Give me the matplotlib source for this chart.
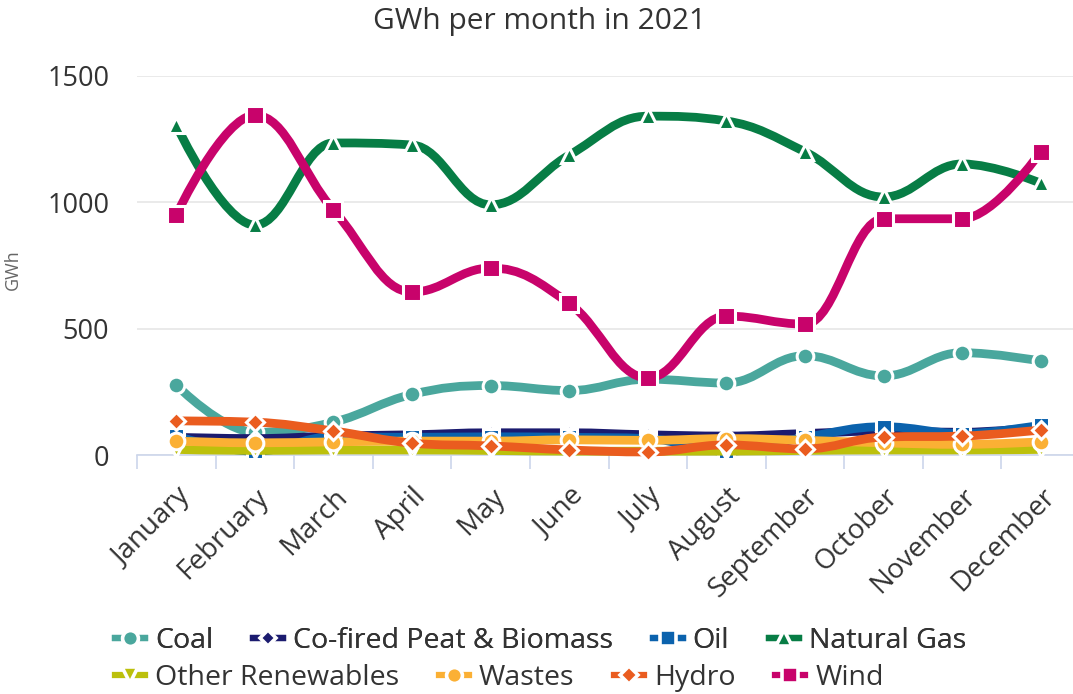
import numpy as np
import matplotlib
matplotlib.use('Agg')
import matplotlib.pyplot as plt
from matplotlib.path import Path
from matplotlib.patches import PathPatch
from matplotlib.lines import Line2D

plt.rcParams['font.family'] = ['Open Sans', 'DejaVu Sans']

months = ['January', 'February', 'March', 'April', 'May', 'June', 'July',
          'August', 'September', 'October', 'November', 'December']

coal = [277, 90, 130, 240, 275, 255, 300, 285, 393, 313, 405, 372]
cofired = [70, 65, 75, 80, 88, 88, 80, 75, 85, 95, 90, 110]
oil = [75, 15, 72, 70, 72, 70, 65, 15, 70, 112, 85, 118]
gas = [1305, 910, 1235, 1227, 990, 1187, 1341, 1322, 1200, 1021, 1152, 1076]
other_ren = [22, 18, 20, 20, 18, 15, 15, 15, 18, 20, 20, 22]
wastes = [55, 48, 52, 55, 55, 60, 58, 65, 58, 48, 42, 52]
hydro = [135, 130, 95, 47, 36, 20, 12, 40, 24, 71, 75, 99]
wind = [950, 1345, 970, 645, 740, 600, 305, 550, 518, 935, 935, 1200]

series = [
    ('Coal', coal, '#4aa79d', 'o', 12),
    ('Co-fired Peat & Biomass', cofired, '#1b1b6f', 'D', 8.5),
    ('Oil', oil, '#0b62ad', 's', 11.5),
    ('Natural Gas', gas, '#077d45', '^', 12),
    ('Other Renewables', other_ren, '#bcc00c', 'v', 12),
    ('Wastes', wastes, '#fbb034', 'o', 12),
    ('Hydro', hydro, '#ea5c1f', 'D', 9.5),
    ('Wind', wind, '#c8036b', 's', 12.5),
]


def spline_path(y, smoothing=1.5):
    # highcharts style spline control points
    x = np.arange(len(y), dtype=float)
    y = np.asarray(y, dtype=float)
    n = len(y)
    lc = [None] * n
    rc = [None] * n
    d = smoothing + 1
    for i in range(1, n - 1):
        lx = (smoothing * x[i] + x[i - 1]) / d
        ly = (smoothing * y[i] + y[i - 1]) / d
        rx = (smoothing * x[i] + x[i + 1]) / d
        ry = (smoothing * y[i] + y[i + 1]) / d
        corr = (ry - ly) * (rx - x[i]) / (rx - lx) + y[i] - ry
        ly += corr
        ry += corr
        if ly > y[i - 1] and ly > y[i]:
            ly = max(y[i - 1], y[i]); ry = 2 * y[i] - ly
        elif ly < y[i - 1] and ly < y[i]:
            ly = min(y[i - 1], y[i]); ry = 2 * y[i] - ly
        if ry > y[i + 1] and ry > y[i]:
            ry = max(y[i + 1], y[i]); ly = 2 * y[i] - ry
        elif ry < y[i + 1] and ry < y[i]:
            ry = min(y[i + 1], y[i]); ly = 2 * y[i] - ry
        lc[i] = (lx, ly)
        rc[i] = (rx, ry)
    verts = [(x[0], y[0])]
    codes = [Path.MOVETO]
    for i in range(1, n):
        c1 = rc[i - 1] if rc[i - 1] is not None else (x[i - 1], y[i - 1])
        c2 = lc[i] if lc[i] is not None else (x[i], y[i])
        verts += [c1, c2, (x[i], y[i])]
        codes += [Path.CURVE4] * 3
    return Path(verts, codes)


fig = plt.figure(figsize=(10.73, 6.94), dpi=100)
ax = fig.add_axes([137 / 1073, 1 - 455 / 694, 943 / 1073, 379 / 694])

handles = []
for k, (name, vals, col, mk, ms) in enumerate(series):
    patch = PathPatch(spline_path(vals), facecolor='none', edgecolor=col, lw=6.3,
                      capstyle='round', joinstyle='round', zorder=3 + 2 * k, clip_on=False)
    ax.add_patch(patch)
    ax.plot(range(len(vals)), vals, linestyle='none', marker=mk, ms=ms, color=col,
            mec='white', mew=2.2, zorder=4 + 2 * k, clip_on=False)
    handles.append(Line2D([0], [0], color=col, lw=4.5, marker=mk, ms=ms * 0.95,
                          mec='white', mew=2.6))

ax.set_xlim(-0.5, 11.5)
ax.set_ylim(0, 1500)
ax.set_yticks([0, 500, 1000, 1500])
ax.tick_params(axis='y', length=0, pad=20, labelsize=19.5, labelcolor='#333333')
ax.set_xticks(range(12))
ax.set_xticklabels(months, rotation=45, ha='right', rotation_mode='anchor')
ax.tick_params(axis='x', which='major', length=0, pad=20, labelsize=20, labelcolor='#333333')
ax.set_xticks(np.arange(-0.5, 12, 1), minor=True)
ax.tick_params(axis='x', which='minor', length=10, width=1.2, color='#ccd6eb')
ax.grid(axis='y', color='#e6e6e6', lw=1.2)
ax.set_axisbelow(True)
for s in ['top', 'right', 'left']:
    ax.spines[s].set_visible(False)
ax.spines['bottom'].set_color('#ccd6eb')
ax.spines['bottom'].set_linewidth(1.2)

ax.set_ylabel('GWh', fontsize=13, color='#666666')
ax.yaxis.set_label_coords((22 - 137) / 943, (455 - 270) / 379)
fig.text(0.503, 1 - 22 / 694, 'GWh per month in 2021', ha='center', va='center',
         fontsize=21.5, color='#333333')

leg_kw = dict(loc='center left', ncol=4, frameon=False, fontsize=20.5,
              handlelength=1.05, handletextpad=0.35, columnspacing=1.4,
              labelcolor='#333333', borderaxespad=0, borderpad=0)
leg1 = fig.legend(handles[:4], [s[0] for s in series[:4]],
                  bbox_to_anchor=(115 / 1073, 1 - 641 / 694), **leg_kw)
fig.add_artist(leg1)
fig.legend(handles[4:], [s[0] for s in series[4:]],
           bbox_to_anchor=(115 / 1073, 1 - 678 / 694), **leg_kw)

fig.savefig('out.png', dpi=100)
